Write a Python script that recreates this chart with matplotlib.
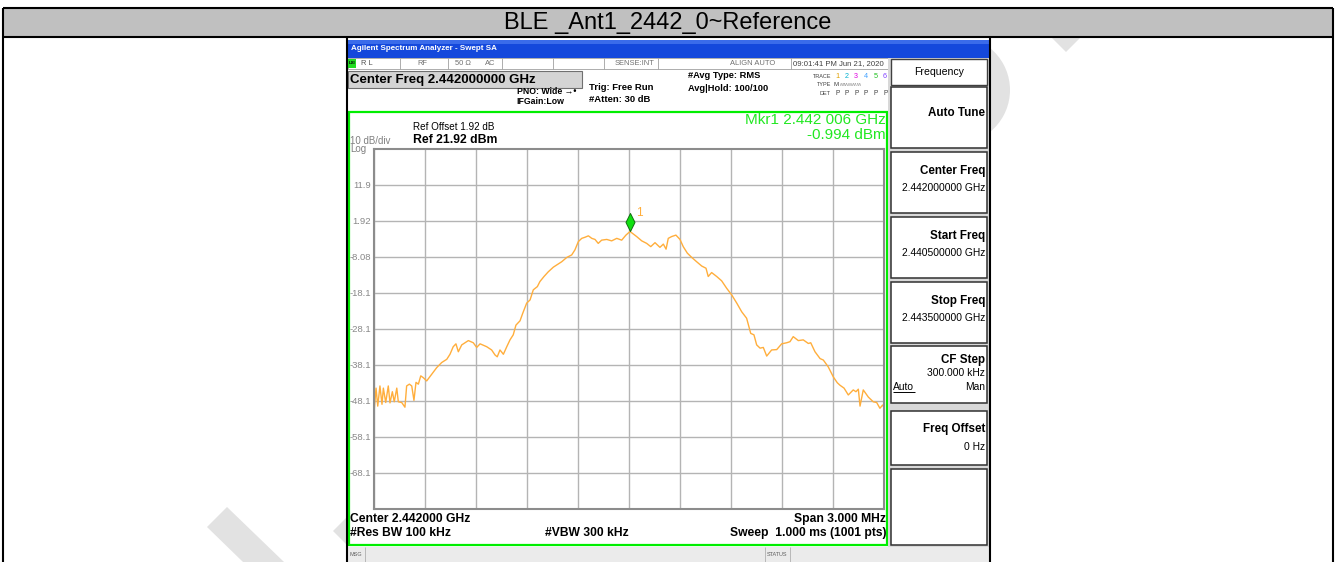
#!/usr/bin/env python3
import matplotlib
matplotlib.use('agg')
import matplotlib.pyplot as plt
import matplotlib.patches as patches
import matplotlib.transforms as mtransforms
from matplotlib.path import Path

plt.rcParams['font.family'] = ['Liberation Sans', 'DejaVu Sans']

# trace: frequency (MHz) and level (dBm)
freq_mhz = [2440.502, 2440.512, 2440.522, 2440.535, 2440.547, 2440.555, 2440.569, 2440.584,
            2440.594, 2440.608, 2440.619, 2440.634, 2440.643, 2440.663, 2440.682, 2440.692,
            2440.708, 2440.722, 2440.735, 2440.747, 2440.761, 2440.775, 2440.790, 2440.810,
            2440.839, 2440.869, 2440.898, 2440.928, 2440.947, 2440.966, 2440.982, 2440.996,
            2441.016, 2441.055, 2441.084, 2441.104, 2441.124, 2441.163, 2441.192, 2441.212,
            2441.225, 2441.241, 2441.261, 2441.281, 2441.300, 2441.319, 2441.335, 2441.359,
            2441.375, 2441.398, 2441.418, 2441.437, 2441.461, 2441.476, 2441.500, 2441.525,
            2441.555, 2441.584, 2441.604, 2441.634, 2441.663, 2441.682, 2441.702, 2441.722,
            2441.741, 2441.761, 2441.781, 2441.800, 2441.819, 2441.839, 2441.869, 2441.898,
            2441.928, 2441.957, 2441.982, 2442.006, 2442.045, 2442.075, 2442.104, 2442.128,
            2442.153, 2442.182, 2442.202, 2442.218, 2442.231, 2442.251, 2442.276, 2442.300,
            2442.319, 2442.343, 2442.369, 2442.398, 2442.428, 2442.453, 2442.466, 2442.486,
            2442.516, 2442.545, 2442.575, 2442.604, 2442.634, 2442.663, 2442.692, 2442.716,
            2442.735, 2442.751, 2442.771, 2442.790, 2442.810, 2442.839, 2442.869, 2442.898,
            2442.928, 2442.947, 2442.966, 2442.996, 2443.025, 2443.055, 2443.069, 2443.094,
            2443.124, 2443.143, 2443.172, 2443.202, 2443.225, 2443.241, 2443.265, 2443.290,
            2443.319, 2443.335, 2443.349, 2443.359, 2443.378, 2443.408, 2443.437, 2443.457,
            2443.476, 2443.492, 2443.500]
level_dbm = [-50.1, -44.5, -49.5, -43.9, -49.0, -44.5, -48.5, -43.9,
             -48.6, -45.5, -48.3, -44.5, -48.3, -48.5, -49.8, -43.9,
             -43.4, -43.9, -47.9, -42.9, -43.4, -41.1, -41.6, -42.5,
             -40.7, -38.8, -37.4, -36.5, -35.1, -33.0, -32.2, -34.4,
             -32.5, -31.3, -31.9, -33.2, -32.2, -33.0, -33.9, -35.3,
             -35.8, -33.9, -35.1, -33.0, -31.1, -29.7, -27.0, -25.8,
             -23.7, -20.9, -20.0, -17.2, -16.3, -14.9, -13.5, -12.2,
             -10.9, -10.0, -9.4, -8.2, -7.5, -6.1, -3.8, -2.9,
             -2.6, -2.2, -2.9, -3.2, -4.3, -3.4, -3.2, -3.6,
             -2.9, -3.4, -2.0, -0.99, -2.4, -3.6, -4.3, -5.2,
             -4.1, -5.4, -4.5, -5.9, -2.9, -2.4, -2.0, -3.2,
             -5.2, -7.0, -8.2, -9.4, -10.6, -11.2, -13.5, -12.4,
             -13.5, -14.7, -16.8, -18.6, -20.9, -23.3, -25.1, -29.3,
             -29.7, -32.5, -33.4, -33.2, -35.6, -33.9, -33.8, -32.2,
             -31.9, -31.6, -30.2, -31.3, -31.1, -32.1, -31.9, -34.4,
             -36.3, -36.7, -38.6, -41.4, -43.0, -43.7, -44.5, -46.4,
             -45.0, -45.5, -44.8, -49.5, -45.0, -47.0, -48.3, -48.5,
             -50.1, -49.2, -49.8]

ref_level = 21.92
db_per_div = 10
start_mhz = 2440.5
stop_mhz = 2443.5
ytick_labels = ['11.9', '1.92', '-8.08', '-18.1', '-28.1', '-38.1', '-48.1', '-58.1', '-68.1']

marker_mhz = 2442.006
marker_dbm = -0.994

softkeys = [('Auto Tune', ''), ('Center Freq', '2.442000000 GHz'),
            ('Start Freq', '2.440500000 GHz'), ('Stop Freq', '2.443500000 GHz'),
            ('CF Step', '300.000 kHz'), ('Freq Offset', '0 Hz'), ('', '')]

W, H = 1336, 562
fig = plt.figure(figsize=(W / 100, H / 100), dpi=100)

# full-figure layer in pixel coordinates for the page / screen furniture
ov = fig.add_axes([0, 0, 1, 1], zorder=0)
ov.set_xlim(0, W)
ov.set_ylim(H, 0)
ov.axis('off')


def txt(x, y, s, size=6, color='black', ha='left', weight='normal', **kw):
    ov.text(x, y, s, fontsize=size, color=color, ha=ha, va='center',
            fontweight=weight, **kw)


def box(x0, y0, x1, y1, fc='white', ec='none', lw=1.0, z=1):
    ov.add_patch(patches.Rectangle((x0, y0), x1 - x0, y1 - y0, fc=fc, ec=ec,
                                   lw=lw, zorder=z))


def line(xs, ys, color='black', lw=1.5, z=5):
    ov.plot(xs, ys, color=color, lw=lw, zorder=z, solid_capstyle='butt')


# faint watermark strokes (mostly hidden under the screenshot)
wm = '#E2E2E2'
ov.add_patch(patches.Polygon([(207, 527), (227, 507), (284, 562), (243, 562)],
                             fc=wm, ec='none', zorder=0.5))
ov.add_patch(patches.Polygon([(333, 531), (347, 517), (347, 545)],
                             fc=wm, ec='none', zorder=0.5))
ov.add_patch(patches.Polygon([(1052, 38), (1080, 38), (1066, 52)],
                             fc=wm, ec='none', zorder=0.5))
ov.add_patch(patches.Circle((956, 90), 54, fc=wm, ec='none', zorder=0.5))

# table header
box(3, 8, 1333, 37, fc='#C0C0C0', z=1)
txt(668, 22.5, 'BLE _Ant1_2442_0~Reference', size=17, ha='center')
line([3, 1333], [8, 8])
line([3, 1333], [37, 37])
line([3, 3], [8, 562])
line([1333, 1333], [8, 562])
line([347, 347], [37, 562])
line([990, 990], [37, 562])

# screenshot background
box(348, 38, 989, 562, fc='white', z=1)
box(348, 40, 989, 57.5, fc='#1448DC', z=2)
box(348, 40, 989, 44, fc='#3A6BEA', z=2)
txt(351, 49, 'Agilent Spectrum Analyzer - Swept SA', size=5.8, color='white', weight='bold')

# status row
box(348, 58, 888, 69, fc='white', ec='#A0A0A0', lw=0.6, z=2)
box(348, 59, 356, 68, fc='#22DD22', z=3)
txt(349, 63.5, 'LXI', size=3.2, weight='bold')
for sx in [400, 448, 502, 553, 604, 658, 791]:
    line([sx, sx], [58, 69], color='#A0A0A0', lw=0.6)
txt(361, 63.5, 'R L', size=5.4, color='#505050')
txt(422, 63.5, 'RF', size=5.4, color='#707070', ha='center')
txt(455, 63.5, '50 \u03a9', size=5.4, color='#707070')
txt(485, 63.5, 'AC', size=5.4, color='#707070')
txt(654, 63.5, 'SENSE:INT', size=5.4, color='#707070', ha='right')
txt(775, 63.5, 'ALIGN AUTO', size=5.4, color='#707070', ha='right')
txt(793, 63.5, '09:01:41 PM Jun 21, 2020', size=5.6, color='#404040')

# measurement settings header
box(348, 71, 582, 87.5, fc='#D4D4D4', ec='#707070', lw=0.8, z=2)
txt(350, 79.5, 'Center Freq 2.442000000 GHz', size=9.5, weight='bold')
txt(517, 91, 'PNO: Wide \u2192\u2022', size=6.3, weight='bold')
txt(516, 102, 'IFGain:Low', size=6.3, weight='bold')
txt(589, 88, 'Trig: Free Run', size=6.8, weight='bold')
txt(589, 99.5, '#Atten: 30 dB', size=6.8, weight='bold')
txt(688, 76, '#Avg Type: RMS', size=6.7, weight='bold')
txt(688, 88.5, 'Avg|Hold: 100/100', size=6.7, weight='bold')
txt(831, 76, 'TRACE', size=4, color='#404040', ha='right')
txt(831, 85, 'TYPE', size=4, color='#404040', ha='right')
txt(831, 93.5, 'DET', size=4, color='#404040', ha='right')
trace_cols = ['#E0A000', '#00B0D0', '#E000E0', '#40A0FF', '#20C020', '#8040FF']
for i, c in enumerate(trace_cols):
    txt(835 + i * 9.6, 76, str(i + 1), size=5.2, color=c)
    txt(835 + i * 9.6, 93.5, 'P', size=4.8, color='#404040')
txt(834, 85, 'M', size=4.4, color='#404040')
txt(840, 85, '\u028d\u028d\u028d\u028d\u028d', size=4.4, color='#909090')

# graticule frame
ov.add_patch(patches.Rectangle((348.5, 111.5), 538, 433.5, fc='white', ec='#00EE00',
                               lw=1.6, zorder=2))
txt(413, 127, 'Ref Offset 1.92 dB', size=7.1)
txt(413, 140, 'Ref 21.92 dBm', size=8.8, weight='bold')
txt(350, 141, '10 dB/div', size=7, color='#808080')
txt(350, 149.5, 'Log', size=7, color='#808080')
txt(886, 120, 'Mkr1 2.442 006 GHz', size=11, color='#22E822', ha='right')
txt(886, 135, '-0.994 dBm', size=11, color='#22E822', ha='right')
txt(350, 519, 'Center 2.442000 GHz', size=8.7, weight='bold')
txt(886, 519, 'Span 3.000 MHz', size=8.7, weight='bold', ha='right')
txt(350, 533, '#Res BW 100 kHz', size=8.7, weight='bold')
txt(545, 533, '#VBW 300 kHz', size=8.7, weight='bold')
txt(886, 533, 'Sweep  1.000 ms (1001 pts)', size=8.7, weight='bold', ha='right')

# message bar
box(348, 547, 989, 562, fc='#EBEBEB', z=2)
line([365, 365], [547, 562], color='#B0B0B0', lw=0.6)
line([765, 765], [547, 562], color='#B0B0B0', lw=0.6)
line([790, 790], [547, 562], color='#B0B0B0', lw=0.6)
txt(349, 555, 'MSG', size=4, color='#606060')
txt(767, 555, 'STATUS', size=4, color='#606060')

# softkey panel
box(888, 57.5, 989, 547, fc='#D8D8D8', z=2)
box(891, 59, 987, 85, fc='white', ec='#404040', lw=1.0, z=3)
txt(939, 72, 'Frequency', size=7.6, ha='center')
key_tops = [87, 152, 217, 282, 346, 411, 469]
key_bots = [148, 213, 278, 343, 403, 465, 545]
name_dy = [26, 19, 19, 19, 14, 18, 0]
value_dy = [0, 36, 36, 36, 27, 36, 0]
for (name, value), y0, y1, ndy, vdy in zip(softkeys, key_tops, key_bots, name_dy, value_dy):
    box(891, y0, 987, y1, fc='white', ec='#303030', lw=1.1, z=3)
    if name:
        txt(985, y0 + ndy, name, size=8.4, weight='bold', ha='right')
    if value:
        txt(985, y0 + vdy, value, size=7.4, ha='right')
txt(893, 387, 'Auto', size=7.4)
line([893, 915], [391.5, 391.5], lw=0.7)
txt(985, 387, 'Man', size=7.4, ha='right')

# the trace itself
ax = fig.add_axes([374 / W, 1 - 509 / H, 510 / W, 360 / H], zorder=2)
bottom = ref_level - 10 * db_per_div
ax.set_xlim(start_mhz, stop_mhz)
ax.set_ylim(bottom, ref_level)
ax.set_xticks([start_mhz + i * (stop_mhz - start_mhz) / 10 for i in range(11)])
ax.set_xticklabels([])
ax.set_yticks([ref_level - (i + 1) * db_per_div for i in range(9)])
ax.set_yticklabels(ytick_labels)
ax.tick_params(length=0, pad=2, labelsize=6.8, labelcolor='#888888')
ax.grid(True, color='#B4B4B4', lw=1.0)
ax.set_axisbelow(True)
for sp in ax.spines.values():
    sp.set_color('#8C8C8C')
    sp.set_linewidth(1.5)
ax.plot(freq_mhz, level_dbm, color='#FFAE3C', lw=1.0)

diamond = Path([(0, 1), (0.5, 0), (0, -1), (-0.5, 0), (0, 1)],
               [Path.MOVETO, Path.LINETO, Path.LINETO, Path.LINETO, Path.CLOSEPOLY])
up = mtransforms.offset_copy(ax.transData, fig=fig, x=0, y=9, units='dots')
ax.plot([marker_mhz], [marker_dbm], marker=diamond, ms=13, mfc='#10E010', mec='#107010',
        mew=0.7, transform=up, clip_on=False)
ax.annotate('1', xy=(marker_mhz, marker_dbm), xytext=(6, 15), textcoords='offset pixels',
            color='#FFAE3C', fontsize=8.5)

plt.savefig('out.png', dpi=100)
